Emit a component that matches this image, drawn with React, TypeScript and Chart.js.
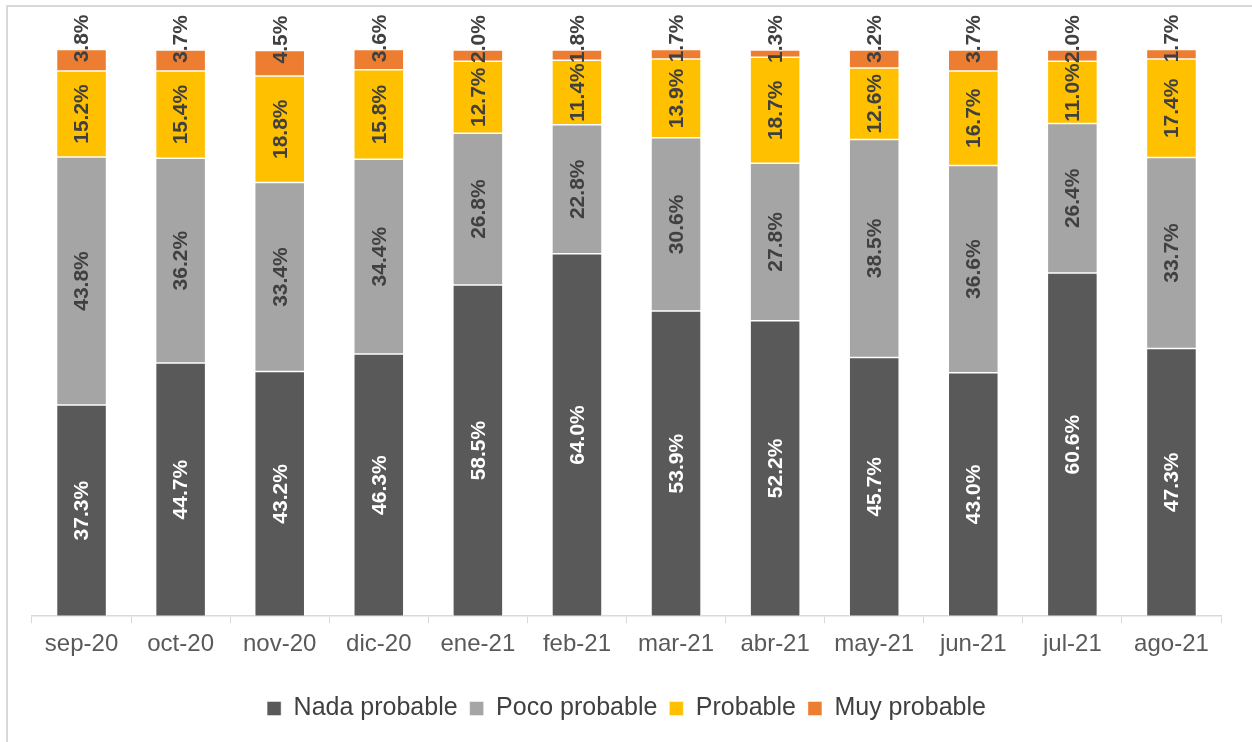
import React, { useEffect, useRef } from "react";
import { Chart, registerables } from "chart.js";

Chart.register(...registerables);

const categories = ["sep-20", "oct-20", "nov-20", "dic-20", "ene-21", "feb-21", "mar-21", "abr-21", "may-21", "jun-21", "jul-21", "ago-21"];
const nadaProbable = [37.3, 44.7, 43.2, 46.3, 58.5, 64.0, 53.9, 52.2, 45.7, 43.0, 60.6, 47.3];
const pocoProbable = [43.8, 36.2, 33.4, 34.4, 26.8, 22.8, 30.6, 27.8, 38.5, 36.6, 26.4, 33.7];
const probable = [15.2, 15.4, 18.8, 15.8, 12.7, 11.4, 13.9, 18.7, 12.6, 16.7, 11.0, 17.4];
const muyProbable = [3.8, 3.7, 4.5, 3.6, 2.0, 1.8, 1.7, 1.3, 3.2, 3.7, 2.0, 1.7];

const seriesNames = ["Nada probable", "Poco probable", "Probable", "Muy probable"];
const seriesColors = ["#595959", "#a5a5a5", "#ffc000", "#ed7d31"];
const labelColors = ["#ffffff", "#404040", "#404040", "#404040"];

const FONT = "'Liberation Sans', Arial, sans-serif";

const labelPlugin = {
  id: "segLabels",
  afterDatasetsDraw(chart: any) {
    const ctx = chart.ctx;
    ctx.save();
    ctx.font = `bold 21px ${FONT}`;
    ctx.textAlign = "center";
    ctx.textBaseline = "middle";
    const n = chart.data.datasets.length;
    chart.data.datasets.forEach((ds: any, di: number) => {
      const meta = chart.getDatasetMeta(di);
      meta.data.forEach((bar: any, i: number) => {
        const v = ds.data[i];
        let cy = (bar.y + bar.base) / 2;
        if (di === n - 1) cy = Math.min(cy, bar.y - 11);
        ctx.save();
        ctx.translate(bar.x, cy);
        ctx.rotate(-Math.PI / 2);
        ctx.fillStyle = labelColors[di];
        ctx.fillText(v.toFixed(1) + "%", 0, 1);
        ctx.restore();
      });
    });
    ctx.restore();
  },
};

export default function App() {
  const ref = useRef<HTMLCanvasElement>(null);
  useEffect(() => {
    if (!ref.current) return;
    const all = [nadaProbable, pocoProbable, probable, muyProbable];
    const chart = new Chart(ref.current, {
      type: "bar",
      data: {
        labels: categories,
        datasets: all.map((d, i) => ({
          label: seriesNames[i],
          data: d,
          backgroundColor: seriesColors[i],
          borderColor: "rgba(255,255,255,0.6)",
          borderWidth: 0.75,
          borderSkipped: false,
          barPercentage: 1,
          categoryPercentage: 0.505,
        })),
      },
      options: {
        animation: false,
        responsive: false,
        devicePixelRatio: 1,
        layout: { padding: { left: 32, right: 31, top: 50, bottom: 11 } },
        plugins: {
          tooltip: { enabled: false },
          legend: {
            position: "bottom",
            labels: {
              boxWidth: 14,
              boxHeight: 14,
              padding: 12,
              color: "#404040",
              font: { family: FONT, size: 25 },
            },
          },
        },
        scales: {
          x: {
            stacked: true,
            afterFit: (scale: any) => {
              scale.height += 18;
            },
            grid: { display: true, drawOnChartArea: false, drawTicks: true, tickLength: 7, color: "#d9d9d9", offset: true },
            border: { display: true, color: "#d9d9d9", width: 1.5 },
            ticks: { color: "#595959", font: { family: FONT, size: 24 }, padding: 7, maxRotation: 0 },
          },
          y: {
            stacked: true,
            display: false,
            min: 0,
            max: 100,
          },
        },
      },
      plugins: [labelPlugin],
    });
    return () => chart.destroy();
  }, []);
  return (
    <div style={{ position: "absolute", left: 0, top: 0, width: 1252, height: 742, background: "#fff" }}>
      <div style={{ position: "absolute", left: 6, top: 5, width: 1260, height: 760, border: "2px solid #d9d9d9", boxSizing: "border-box" }} />
      <canvas ref={ref} width={1252} height={742} style={{ position: "absolute", left: 0, top: 0, width: 1252, height: 742 }} />
    </div>
  );
}
